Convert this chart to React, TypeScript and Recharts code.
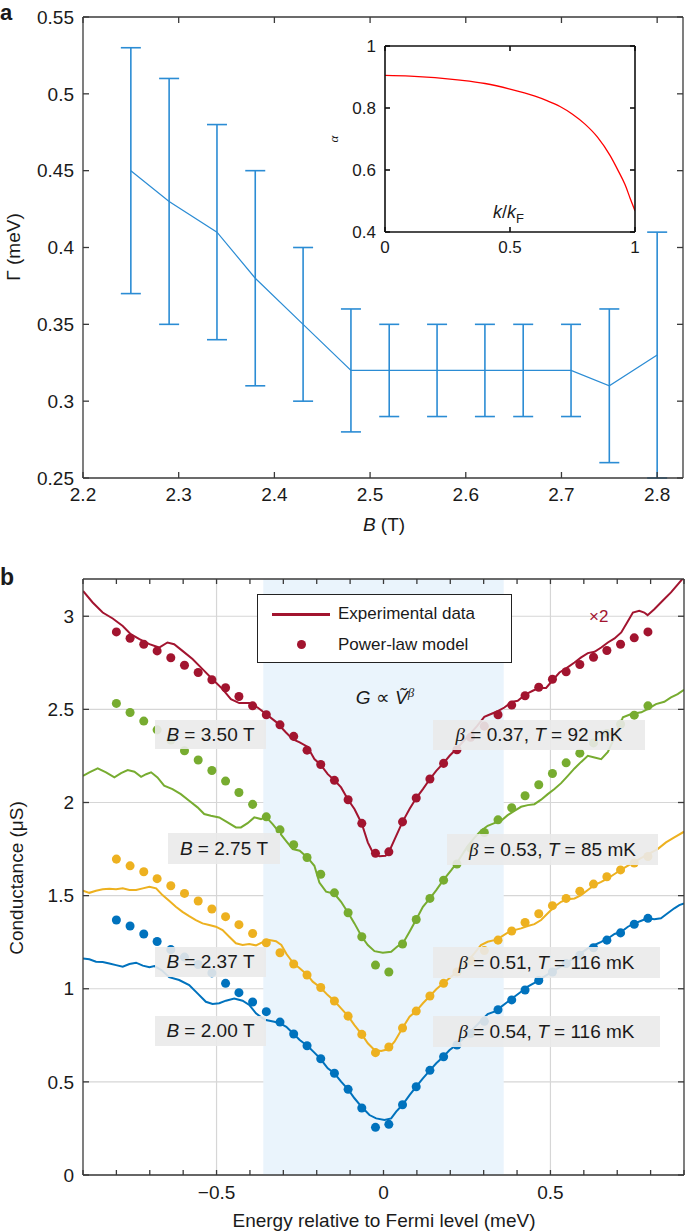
import {
  CartesianGrid,
  ComposedChart,
  ErrorBar,
  Line,
  LineChart,
  ReferenceArea,
  Scatter,
  XAxis,
  YAxis,
} from "recharts";
import type { CSSProperties, ReactNode } from "react";

const FONT = '"Liberation Sans", Arial, Helvetica, sans-serif';
const SERIF = '"Liberation Serif", "DejaVu Serif", serif';
const AXIS = "#3a3a3a";
const TEXT = "#1a1a1a";

const RED = "#A2142F";
const GREEN = "#77AC30";
const YELLOW = "#EDB120";
const BLUE = "#0072BD";
const BAR_BLUE = "#2B8CD4";

// ---- panel a: broadening vs field ----
const fieldB = [2.25, 2.29, 2.34, 2.38, 2.43, 2.48, 2.52, 2.57, 2.62, 2.66, 2.71, 2.75, 2.8];
const gamma = [0.45, 0.43, 0.41, 0.38, 0.35, 0.32, 0.32, 0.32, 0.32, 0.32, 0.32, 0.31, 0.33];
const gammaHi = [0.53, 0.51, 0.48, 0.45, 0.4, 0.36, 0.35, 0.35, 0.35, 0.35, 0.35, 0.36, 0.41];
const gammaLo = [0.37, 0.35, 0.34, 0.31, 0.3, 0.28, 0.29, 0.29, 0.29, 0.29, 0.29, 0.26, 0.25];
const bTicks = [2.2, 2.3, 2.4, 2.5, 2.6, 2.7, 2.8];
const gammaTicks = [0.25, 0.3, 0.35, 0.4, 0.45, 0.5, 0.55];

// inset: alpha vs k/kF
const kRatio = [0, 0.1, 0.2, 0.3, 0.4, 0.5, 0.6, 0.65, 0.7, 0.75, 0.8, 0.85, 0.9, 0.93, 0.96, 0.98, 1.0];
const alphaVals = [0.905, 0.903, 0.898, 0.89, 0.879, 0.861, 0.838, 0.823, 0.805, 0.78, 0.748, 0.706, 0.647, 0.602, 0.553, 0.51, 0.468];
const kTicks = [0, 0.5, 1];
const alphaTicks = [0.4, 0.6, 0.8, 1];

// ---- panel b: conductance vs energy ----
const modelE = [
  -0.8, -0.759, -0.718, -0.678, -0.637, -0.596, -0.555, -0.514, -0.473, -0.433,
  -0.392, -0.351, -0.31, -0.269, -0.229, -0.188, -0.147, -0.106, -0.065, -0.024,
  0.016, 0.057, 0.098, 0.139, 0.18, 0.22, 0.261, 0.302, 0.343, 0.384,
  0.424, 0.465, 0.506, 0.547, 0.588, 0.629, 0.669, 0.71, 0.751, 0.792,
];
const modelRed = [
  2.916, 2.882, 2.85, 2.814, 2.777, 2.737, 2.698, 2.659, 2.616, 2.569,
  2.519, 2.471, 2.417, 2.355, 2.281, 2.204, 2.119, 2.015, 1.888, 1.727,
  1.735, 1.896, 2.024, 2.126, 2.21, 2.283, 2.35, 2.41, 2.471, 2.523,
  2.573, 2.619, 2.662, 2.702, 2.741, 2.78, 2.816, 2.85, 2.884, 2.916,
];
const modelGreen = [
  2.532, 2.483, 2.437, 2.39, 2.335, 2.278, 2.228, 2.172, 2.115, 2.054,
  1.99, 1.923, 1.853, 1.773, 1.705, 1.615, 1.515, 1.408, 1.279, 1.127,
  1.09, 1.24, 1.372, 1.485, 1.583, 1.67, 1.755, 1.839, 1.907, 1.972,
  2.036, 2.095, 2.156, 2.213, 2.265, 2.32, 2.37, 2.42, 2.469, 2.519,
];
const modelYellow = [
  1.696, 1.66, 1.628, 1.591, 1.553, 1.512, 1.471, 1.428, 1.387, 1.344,
  1.297, 1.247, 1.193, 1.133, 1.074, 1.007, 0.934, 0.853, 0.755, 0.657,
  0.687, 0.789, 0.88, 0.961, 1.029, 1.09, 1.15, 1.205, 1.261, 1.31,
  1.356, 1.403, 1.446, 1.485, 1.524, 1.562, 1.601, 1.638, 1.675, 1.71,
];
const modelBlue = [
  1.369, 1.337, 1.294, 1.254, 1.21, 1.17, 1.13, 1.085, 1.029, 0.979,
  0.929, 0.877, 0.821, 0.757, 0.694, 0.624, 0.546, 0.46, 0.36, 0.256,
  0.272, 0.377, 0.474, 0.562, 0.635, 0.698, 0.76, 0.825, 0.887, 0.94,
  0.993, 1.044, 1.09, 1.135, 1.18, 1.22, 1.261, 1.3, 1.346, 1.378,
];

// measured curves as [energy, conductance]
const expRed: [number, number][] = [
  [-0.9, 3.136], [-0.871, 3.074], [-0.841, 3.02], [-0.811, 2.988], [-0.781, 2.948],
  [-0.757, 2.904], [-0.731, 2.877], [-0.701, 2.85], [-0.672, 2.832], [-0.647, 2.859],
  [-0.627, 2.85], [-0.602, 2.814], [-0.572, 2.77], [-0.542, 2.716], [-0.512, 2.662],
  [-0.482, 2.609], [-0.457, 2.555], [-0.432, 2.534], [-0.402, 2.534], [-0.377, 2.51],
  [-0.352, 2.475], [-0.322, 2.433], [-0.292, 2.376], [-0.272, 2.34], [-0.251, 2.323],
  [-0.228, 2.3], [-0.207, 2.233], [-0.189, 2.204], [-0.167, 2.152], [-0.147, 2.119],
  [-0.127, 2.081], [-0.106, 2.015], [-0.087, 1.965], [-0.065, 1.886], [-0.047, 1.786],
  [-0.032, 1.732], [-0.012, 1.711], [0.006, 1.714], [0.018, 1.741], [0.038, 1.821],
  [0.057, 1.896], [0.078, 1.965], [0.098, 2.024], [0.118, 2.072], [0.139, 2.126],
  [0.158, 2.17], [0.179, 2.21], [0.198, 2.251], [0.218, 2.287], [0.25, 2.35],
  [0.28, 2.41], [0.302, 2.46], [0.322, 2.475], [0.342, 2.49], [0.362, 2.51],
  [0.384, 2.54], [0.402, 2.546], [0.425, 2.58], [0.447, 2.6], [0.465, 2.615],
  [0.487, 2.615], [0.506, 2.655], [0.527, 2.698], [0.547, 2.72], [0.572, 2.752],
  [0.592, 2.779], [0.612, 2.802], [0.632, 2.809], [0.652, 2.832], [0.672, 2.859],
  [0.692, 2.881], [0.712, 2.913], [0.731, 2.97], [0.747, 3.02], [0.766, 3.029],
  [0.781, 3.02], [0.791, 3.006], [0.811, 3.038], [0.836, 3.083], [0.861, 3.128],
  [0.886, 3.181], [0.9, 3.21],
];
const expGreen: [number, number][] = [
  [-0.9, 2.143], [-0.881, 2.162], [-0.856, 2.183], [-0.831, 2.162], [-0.806, 2.135],
  [-0.786, 2.158], [-0.766, 2.174], [-0.746, 2.165], [-0.726, 2.138], [-0.711, 2.152],
  [-0.696, 2.162], [-0.677, 2.135], [-0.657, 2.09], [-0.632, 2.072], [-0.607, 2.045],
  [-0.582, 2.009], [-0.557, 1.974], [-0.537, 1.938], [-0.517, 1.929], [-0.492, 1.92],
  [-0.467, 1.893], [-0.442, 1.866], [-0.427, 1.866], [-0.407, 1.889], [-0.387, 1.92],
  [-0.367, 1.911], [-0.352, 1.923], [-0.332, 1.884], [-0.312, 1.84], [-0.292, 1.794],
  [-0.272, 1.75], [-0.251, 1.741], [-0.228, 1.705], [-0.207, 1.66], [-0.192, 1.57],
  [-0.172, 1.521], [-0.147, 1.51], [-0.127, 1.467], [-0.106, 1.408], [-0.087, 1.351],
  [-0.065, 1.279], [-0.047, 1.235], [-0.027, 1.202], [-0.002, 1.193], [0.023, 1.199],
  [0.043, 1.229], [0.057, 1.24], [0.078, 1.306], [0.098, 1.372], [0.118, 1.44],
  [0.139, 1.485], [0.158, 1.53], [0.179, 1.583], [0.203, 1.637], [0.225, 1.69],
  [0.25, 1.76], [0.272, 1.81], [0.292, 1.848], [0.312, 1.875], [0.332, 1.889],
  [0.352, 1.902], [0.372, 1.932], [0.392, 1.955], [0.412, 1.977], [0.432, 1.986],
  [0.452, 1.991], [0.472, 2.015], [0.492, 2.045], [0.512, 2.072], [0.532, 2.104],
  [0.552, 2.143], [0.572, 2.183], [0.592, 2.218], [0.612, 2.251], [0.632, 2.242],
  [0.652, 2.233], [0.672, 2.272], [0.695, 2.36], [0.717, 2.457], [0.742, 2.475],
  [0.772, 2.484], [0.791, 2.501], [0.816, 2.528], [0.841, 2.541], [0.861, 2.564],
  [0.881, 2.582], [0.9, 2.605],
];
const expYellow: [number, number][] = [
  [-0.9, 1.526], [-0.881, 1.515], [-0.861, 1.526], [-0.841, 1.534], [-0.821, 1.537],
  [-0.801, 1.534], [-0.781, 1.539], [-0.761, 1.53], [-0.741, 1.53], [-0.721, 1.539],
  [-0.701, 1.548], [-0.681, 1.539], [-0.662, 1.503], [-0.642, 1.472], [-0.622, 1.44],
  [-0.602, 1.413], [-0.582, 1.39], [-0.562, 1.369], [-0.542, 1.351], [-0.522, 1.342],
  [-0.502, 1.333], [-0.482, 1.315], [-0.462, 1.279], [-0.442, 1.244], [-0.422, 1.235],
  [-0.402, 1.24], [-0.382, 1.233], [-0.362, 1.25], [-0.342, 1.262], [-0.322, 1.255],
  [-0.306, 1.235], [-0.29, 1.185], [-0.269, 1.135], [-0.251, 1.11], [-0.228, 1.074],
  [-0.212, 1.038], [-0.189, 1.007], [-0.167, 0.966], [-0.147, 0.934], [-0.127, 0.895],
  [-0.106, 0.853], [-0.087, 0.805], [-0.065, 0.755], [-0.047, 0.707], [-0.027, 0.671],
  [-0.007, 0.666], [0.013, 0.675], [0.033, 0.716], [0.057, 0.789], [0.078, 0.85],
  [0.098, 0.88], [0.118, 0.922], [0.139, 0.961], [0.158, 0.997], [0.179, 1.029],
  [0.2, 1.06], [0.225, 1.1], [0.25, 1.145], [0.272, 1.19], [0.292, 1.235],
  [0.312, 1.252], [0.332, 1.261], [0.352, 1.279], [0.372, 1.301], [0.392, 1.315],
  [0.412, 1.324], [0.432, 1.337], [0.452, 1.347], [0.472, 1.369], [0.492, 1.405],
  [0.512, 1.44], [0.532, 1.467], [0.552, 1.48], [0.572, 1.485], [0.592, 1.503],
  [0.612, 1.53], [0.632, 1.557], [0.652, 1.574], [0.672, 1.593], [0.692, 1.616],
  [0.712, 1.64], [0.75, 1.68], [0.79, 1.72], [0.821, 1.75], [0.846, 1.786],
  [0.871, 1.813], [0.9, 1.843],
];
const expBlue: [number, number][] = [
  [-0.9, 1.163], [-0.881, 1.158], [-0.861, 1.145], [-0.841, 1.143], [-0.821, 1.136],
  [-0.801, 1.127], [-0.781, 1.118], [-0.761, 1.133], [-0.741, 1.14], [-0.721, 1.124],
  [-0.701, 1.115], [-0.686, 1.122], [-0.665, 1.1], [-0.642, 1.062], [-0.612, 1.047],
  [-0.582, 1.02], [-0.557, 0.975], [-0.532, 0.93], [-0.512, 0.918], [-0.492, 0.922],
  [-0.472, 0.936], [-0.447, 0.948], [-0.422, 0.936], [-0.402, 0.913], [-0.382, 0.868],
  [-0.365, 0.845], [-0.352, 0.832], [-0.327, 0.823], [-0.311, 0.815], [-0.291, 0.796],
  [-0.269, 0.757], [-0.251, 0.725], [-0.228, 0.694], [-0.207, 0.657], [-0.189, 0.624],
  [-0.167, 0.573], [-0.147, 0.546], [-0.127, 0.501], [-0.106, 0.46], [-0.087, 0.412],
  [-0.065, 0.365], [-0.042, 0.322], [-0.022, 0.304], [0.003, 0.295], [0.023, 0.304],
  [0.038, 0.34], [0.057, 0.377], [0.078, 0.429], [0.098, 0.474], [0.118, 0.519],
  [0.139, 0.562], [0.158, 0.6], [0.179, 0.635], [0.198, 0.671], [0.218, 0.698],
  [0.25, 0.75], [0.28, 0.805], [0.312, 0.864], [0.332, 0.877], [0.352, 0.903],
  [0.372, 0.93], [0.392, 0.957], [0.412, 0.984], [0.432, 1.011], [0.452, 1.032],
  [0.472, 1.056], [0.5, 1.085], [0.55, 1.14], [0.59, 1.19], [0.612, 1.217],
  [0.632, 1.235], [0.652, 1.252], [0.672, 1.27], [0.692, 1.294], [0.712, 1.306],
  [0.732, 1.333], [0.752, 1.351], [0.772, 1.365], [0.791, 1.378], [0.811, 1.373],
  [0.831, 1.378], [0.851, 1.405], [0.871, 1.432], [0.886, 1.449], [0.9, 1.458],
];

const eTicks = [-0.9, -0.8, -0.7, -0.6, -0.5, -0.4, -0.3, -0.2, -0.1, 0, 0.1, 0.2, 0.3, 0.4, 0.5, 0.6, 0.7, 0.8, 0.9];
const eMajor = [-0.5, 0, 0.5];
const eMajorLabels = ["\u22120.5", "0", "0.5"];
const condTicks = [0, 0.5, 1, 1.5, 2, 2.5, 3];

const gammaRows = fieldB.map((b, i) => ({
  b,
  g: gamma[i],
  err: [gamma[i] - gammaLo[i], gammaHi[i] - gamma[i]],
}));
const alphaRows = kRatio.map((k, i) => ({ k, a: alphaVals[i] }));
const toRows = (ys: number[]) => modelE.map((e, i) => ({ e, g: ys[i] }));
const pairRows = (pts: [number, number][]) => pts.map(([e, g]) => ({ e, g }));

const tickFont = { fontSize: 19, fill: TEXT, fontFamily: FONT };
const blank = () => "";

function Abs({ style, children }: { style: CSSProperties; children: ReactNode }) {
  return (
    <div style={{ position: "absolute", whiteSpace: "nowrap", fontFamily: FONT, color: TEXT, ...style }}>
      {children}
    </div>
  );
}

function Tag({ left, top, width, height, children }: { left: number; top: number; width: number; height: number; children: ReactNode }) {
  return (
    <div
      style={{
        position: "absolute",
        left,
        top,
        width,
        height,
        background: "rgba(234,234,234,0.9)",
        display: "flex",
        alignItems: "center",
        justifyContent: "center",
        fontFamily: FONT,
        fontSize: 19,
        color: TEXT,
        whiteSpace: "nowrap",
      }}
    >
      {children}
    </div>
  );
}

const Beta = () => <span style={{ fontFamily: SERIF, fontStyle: "italic" }}>β</span>;

export default function App() {
  return (
    <div style={{ position: "absolute", left: 0, top: 0, width: 685, height: 1232, background: "#fff", overflow: "hidden" }}>
      {/* panel a */}
      <div style={{ position: "absolute", left: 0, top: 0 }}>
        <ComposedChart width={685} height={540} data={gammaRows} margin={{ top: 16, right: 1, bottom: 61, left: 82 }}>
          <XAxis
            xAxisId="x"
            dataKey="b"
            type="number"
            domain={[2.2, 2.827]}
            ticks={bTicks}
            allowDataOverflow
            height={1}
            tickSize={-6}
            tickMargin={16}
            tick={tickFont}
            stroke={AXIS}
            strokeWidth={1.3}
          />
          <XAxis xAxisId="top" orientation="top" dataKey="b" type="number" domain={[2.2, 2.827]} ticks={bTicks} allowDataOverflow height={1} tickSize={-6} tickFormatter={blank} stroke={AXIS} strokeWidth={1.3} />
          <YAxis
            yAxisId="y"
            type="number"
            domain={[0.25, 0.55]}
            ticks={gammaTicks}
            allowDataOverflow
            width={1}
            tickSize={-6}
            tickMargin={15}
            tick={tickFont}
            stroke={AXIS}
            strokeWidth={1.3}
          />
          <YAxis yAxisId="r" orientation="right" type="number" domain={[0.25, 0.55]} ticks={gammaTicks} allowDataOverflow width={1} tickSize={-6} tickFormatter={blank} stroke={AXIS} strokeWidth={1.3} />
          <Line xAxisId="x" yAxisId="y" dataKey="g" stroke={BAR_BLUE} strokeWidth={1.2} dot={false} isAnimationActive={false}>
            <ErrorBar dataKey="err" direction="y" width={10} stroke={BAR_BLUE} strokeWidth={1.6} />
          </Line>
        </ComposedChart>
      </div>

      {/* inset */}
      <div style={{ position: "absolute", left: 320, top: 26 }}>
        <LineChart width={330} height={240} data={alphaRows} margin={{ top: 19, right: 14, bottom: 33, left: 64 }}>
          <XAxis dataKey="k" type="number" domain={[0, 1]} ticks={kTicks} allowDataOverflow height={1} tickSize={-5} tickMargin={14} tick={{ ...tickFont, fontSize: 17 }} stroke="#111" strokeWidth={1.6} />
          <XAxis xAxisId="top" orientation="top" dataKey="k" type="number" domain={[0, 1]} ticks={kTicks} allowDataOverflow height={1} tickSize={-5} tickFormatter={blank} stroke="#111" strokeWidth={1.6} />
          <YAxis type="number" domain={[0.4, 1]} ticks={alphaTicks} allowDataOverflow width={1} tickSize={-5} tickMargin={14} tick={{ ...tickFont, fontSize: 17 }} stroke="#111" strokeWidth={1.6} />
          <YAxis yAxisId="r" orientation="right" type="number" domain={[0.4, 1]} ticks={alphaTicks} allowDataOverflow width={1} tickSize={-5} tickFormatter={blank} stroke="#111" strokeWidth={1.6} />
          <Line type="monotone" dataKey="a" stroke="#FF0000" strokeWidth={1.3} dot={false} isAnimationActive={false} />
        </LineChart>
      </div>

      {/* panel b */}
      <div style={{ position: "absolute", left: 0, top: 560 }}>
        <ComposedChart width={685} height={672} margin={{ top: 18, right: 0, bottom: 56, left: 82 }}>
          <ReferenceArea xAxisId="x" yAxisId="y" x1={-0.36} x2={0.36} fill="#EAF4FC" fillOpacity={1} stroke="none" />
          <CartesianGrid xAxisId="x" yAxisId="y" stroke="#d6d6d6" strokeWidth={1.2} verticalValues={eMajor} horizontalValues={condTicks} />
          <XAxis
            xAxisId="x"
            dataKey="e"
            type="number"
            domain={[-0.9, 0.9]}
            ticks={eTicks}
            allowDataOverflow
            height={1}
            tickSize={-5}
            tickMargin={16}
            tick={tickFont}
            tickFormatter={(v: number) => {
              const i = eMajor.findIndex((m) => Math.abs(m - v) < 1e-6);
              return i >= 0 ? eMajorLabels[i] : "";
            }}
            stroke={AXIS}
            strokeWidth={1.3}
          />
          <XAxis xAxisId="top" orientation="top" dataKey="e" type="number" domain={[-0.9, 0.9]} ticks={eTicks} allowDataOverflow height={1} tickSize={-5} tickFormatter={blank} stroke={AXIS} strokeWidth={1.3} />
          <YAxis
            yAxisId="y"
            type="number"
            domain={[0, 3.2]}
            ticks={condTicks}
            allowDataOverflow
            width={1}
            tickSize={-6}
            tickMargin={15}
            tick={tickFont}
            stroke={AXIS}
            strokeWidth={1.3}
          />
          <YAxis yAxisId="r" orientation="right" type="number" domain={[0, 3.2]} ticks={condTicks} allowDataOverflow width={1} tickSize={-6} tickFormatter={blank} stroke={AXIS} strokeWidth={1.3} />

          <Line xAxisId="x" yAxisId="y" data={pairRows(expBlue)} dataKey="g" stroke={BLUE} strokeWidth={2} dot={false} isAnimationActive={false} />
          <Line xAxisId="x" yAxisId="y" data={pairRows(expYellow)} dataKey="g" stroke={YELLOW} strokeWidth={2} dot={false} isAnimationActive={false} />
          <Line xAxisId="x" yAxisId="y" data={pairRows(expGreen)} dataKey="g" stroke={GREEN} strokeWidth={2} dot={false} isAnimationActive={false} />
          <Line xAxisId="x" yAxisId="y" data={pairRows(expRed)} dataKey="g" stroke={RED} strokeWidth={2} dot={false} isAnimationActive={false} />

          <Scatter xAxisId="x" yAxisId="y" data={toRows(modelBlue)} dataKey="g" fill={BLUE} isAnimationActive={false} />
          <Scatter xAxisId="x" yAxisId="y" data={toRows(modelYellow)} dataKey="g" fill={YELLOW} isAnimationActive={false} />
          <Scatter xAxisId="x" yAxisId="y" data={toRows(modelGreen)} dataKey="g" fill={GREEN} isAnimationActive={false} />
          <Scatter xAxisId="x" yAxisId="y" data={toRows(modelRed)} dataKey="g" fill={RED} isAnimationActive={false} />
        </ComposedChart>
      </div>

      {/* panel a text */}
      <Abs style={{ left: 0, top: 0, fontSize: 22, fontWeight: 700 }}>a</Abs>
      <Abs style={{ left: 384, top: 525, fontSize: 19, transform: "translate(-50%, -50%)" }}>
        <i>B</i> (T)
      </Abs>
      <Abs style={{ left: 14, top: 247, fontSize: 19, transform: "translate(-50%, -50%) rotate(-90deg)" }}>Γ (meV)</Abs>
      <Abs style={{ left: 334, top: 139, fontSize: 13, fontFamily: SERIF, fontStyle: "italic", transform: "translate(-50%, -50%) rotate(-90deg)" }}>α</Abs>
      <Abs style={{ left: 493, top: 202, fontSize: 18 }}>
        <i>k</i>/<i>k</i>
        <sub style={{ fontSize: 13 }}>F</sub>
      </Abs>

      {/* panel b text */}
      <Abs style={{ left: 0, top: 564, fontSize: 23, fontWeight: 700 }}>b</Abs>
      <Abs style={{ left: 384, top: 1221, fontSize: 19, transform: "translate(-50%, -50%)" }}>
        Energy relative to Fermi level (meV)
      </Abs>
      <Abs style={{ left: 17, top: 878, fontSize: 19, transform: "translate(-50%, -50%) rotate(-90deg)" }}>Conductance (μS)</Abs>
      <Abs style={{ left: 385, top: 697, fontSize: 19, transform: "translate(-50%, -50%)" }}>
        <i>G</i> ∝ <i>V&#771;</i>
        <sup style={{ fontSize: 13, fontFamily: SERIF, fontStyle: "italic" }}>β</sup>
      </Abs>
      <Abs style={{ left: 589, top: 607, fontSize: 17, color: RED }}>×2</Abs>

      {/* legend */}
      <div style={{ position: "absolute", left: 257, top: 594, width: 253, height: 67, background: "#fff", border: "1.5px solid #222" }}>
        <div style={{ position: "absolute", left: 14, top: 18, width: 58, height: 2.5, background: RED }} />
        <div style={{ position: "absolute", left: 38.5, top: 45, width: 9, height: 9, borderRadius: "50%", background: RED }} />
        <Abs style={{ left: 80, top: 9, fontSize: 17 }}>Experimental data</Abs>
        <Abs style={{ left: 80, top: 40, fontSize: 17 }}>Power-law model</Abs>
      </div>

      <Tag left={155} top={720} width={111} height={29}>
        <i>B</i>&nbsp;=&nbsp;3.50&nbsp;T
      </Tag>
      <Tag left={433} top={720} width={212} height={30}>
        <Beta />&nbsp;=&nbsp;0.37,&nbsp;<i>T</i>&nbsp;=&nbsp;92&nbsp;mK
      </Tag>
      <Tag left={168} top={833} width={112} height={31}>
        <i>B</i>&nbsp;=&nbsp;2.75&nbsp;T
      </Tag>
      <Tag left={447} top={834} width={211} height={31}>
        <Beta />&nbsp;=&nbsp;0.53,&nbsp;<i>T</i>&nbsp;=&nbsp;85&nbsp;mK
      </Tag>
      <Tag left={155} top={947} width={111} height={30}>
        <i>B</i>&nbsp;=&nbsp;2.37&nbsp;T
      </Tag>
      <Tag left={433} top={947} width={227} height={31}>
        <Beta />&nbsp;=&nbsp;0.51,&nbsp;<i>T</i>&nbsp;=&nbsp;116&nbsp;mK
      </Tag>
      <Tag left={155} top={1016} width={111} height={30}>
        <i>B</i>&nbsp;=&nbsp;2.00&nbsp;T
      </Tag>
      <Tag left={433} top={1016} width={227} height={31}>
        <Beta />&nbsp;=&nbsp;0.54,&nbsp;<i>T</i>&nbsp;=&nbsp;116&nbsp;mK
      </Tag>
    </div>
  );
}
